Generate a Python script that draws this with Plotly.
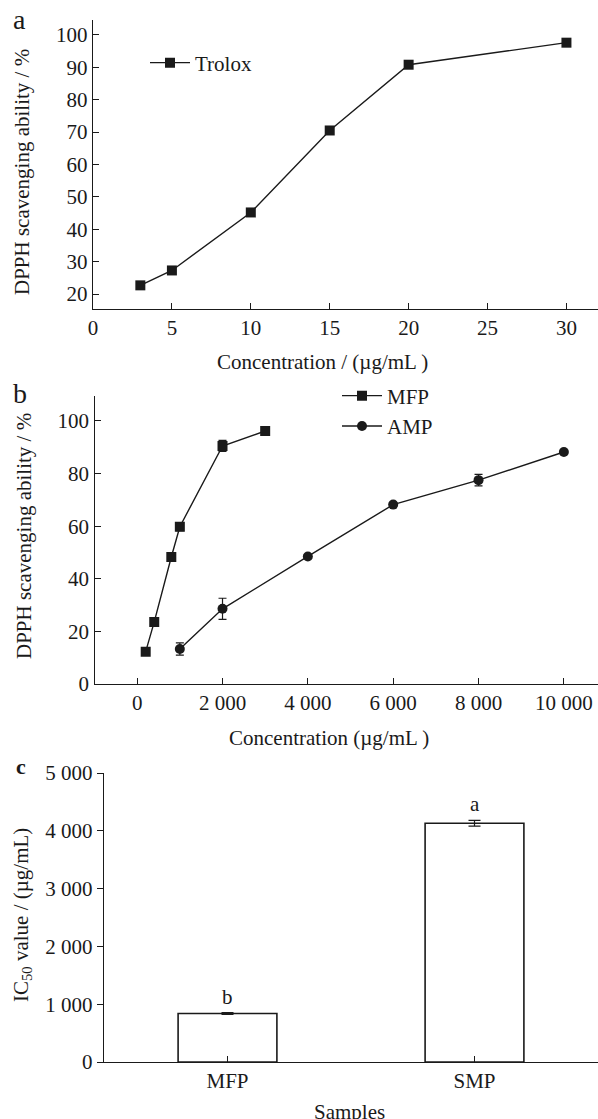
import plotly.graph_objects as go

# ---------------- data ----------------
trolox_conc = [3, 5, 10, 15, 20, 30]
trolox_dpph = [22.7, 27.3, 45.2, 70.5, 90.8, 97.6]

mfp_conc = [200, 400, 800, 1000, 2000, 3000]
mfp_dpph = [12.3, 23.6, 48.3, 59.8, 90.5, 96.2]
mfp_err = [0.5, 0.6, 1.5, 1.5, 2.1, 0.6]

amp_conc = [1000, 2000, 4000, 6000, 8000, 10000]
amp_dpph = [13.3, 28.6, 48.5, 68.2, 77.5, 88.2]
amp_err = [2.3, 4.0, 0.5, 0.5, 2.2, 0.5]

ic50_samples = ["MFP", "SMP"]
ic50_values = [840, 4130]
ic50_err = [15, 50]
ic50_letters = ["b", "a"]

xb_ticks = [0, 2000, 4000, 6000, 8000, 10000]
xb_text = ["0", "2 000", "4 000", "6 000", "8 000", "10 000"]
yc_ticks = [0, 1000, 2000, 3000, 4000, 5000]
yc_text = ["0", "1 000", "2 000", "3 000", "4 000", "5 000"]

# ---------------- layout helpers ----------------
W, H = 598, 1119
FONT = "Liberation Serif"
FS = 21
INK = "#1a1a1a"


def px(p):
    return p / W


def py(p):
    return 1 - p / H


fig = go.Figure()

fig.add_trace(go.Scatter(
    x=trolox_conc, y=trolox_dpph, mode="lines+markers", name="Trolox",
    line=dict(color=INK, width=1.4),
    marker=dict(symbol="square", size=10, color=INK),
    xaxis="x", yaxis="y", legend="legend"))

fig.add_trace(go.Scatter(
    x=mfp_conc, y=mfp_dpph, mode="lines+markers", name="MFP",
    line=dict(color=INK, width=1.4),
    marker=dict(symbol="square", size=10, color=INK),
    error_y=dict(type="data", array=mfp_err, color=INK, thickness=1.2, width=4),
    xaxis="x2", yaxis="y2", legend="legend2"))

fig.add_trace(go.Scatter(
    x=amp_conc, y=amp_dpph, mode="lines+markers", name="AMP",
    line=dict(color=INK, width=1.4),
    marker=dict(symbol="circle", size=10, color=INK),
    error_y=dict(type="data", array=amp_err, color=INK, thickness=1.2, width=4),
    xaxis="x2", yaxis="y2", legend="legend2"))

fig.add_trace(go.Bar(
    x=ic50_samples, y=ic50_values, width=0.4,
    marker=dict(color="white", line=dict(color=INK, width=1.6)),
    error_y=dict(type="data", array=ic50_err, color=INK, thickness=1.2, width=6),
    xaxis="x3", yaxis="y3", showlegend=False))

axis_common = dict(
    showline=True, linecolor=INK, linewidth=1.4, showgrid=False, zeroline=False,
    ticks="inside", ticklen=6, tickwidth=1.3, tickcolor=INK, automargin=False,
    tickfont=dict(family=FONT, size=FS, color=INK),
)

fig.update_layout(
    width=W, height=H,
    margin=dict(l=0, r=0, t=0, b=0, autoexpand=False),
    paper_bgcolor="white", plot_bgcolor="white",
    font=dict(family=FONT, size=FS, color=INK),
    xaxis=dict(domain=[px(93), 1], range=[0, 32], anchor="y",
               tickvals=[0, 5, 10, 15, 20, 25, 30], **axis_common),
    yaxis=dict(domain=[py(309), py(20)], range=[15.4, 104.6], anchor="x",
               tickvals=[20, 30, 40, 50, 60, 70, 80, 90, 100], **axis_common),
    xaxis2=dict(domain=[px(94.5), 1], range=[-1000, 10800], anchor="y2",
                tickvals=xb_ticks, ticktext=xb_text, **axis_common),
    yaxis2=dict(domain=[py(684), py(396)], range=[0, 109.5], anchor="x2",
                tickvals=[0, 20, 40, 60, 80, 100], **axis_common),
    xaxis3=dict(domain=[px(104), 1], range=[-0.5, 1.5], anchor="y3",
                type="category", **axis_common),
    yaxis3=dict(domain=[py(1062), py(773)], range=[0, 5000], anchor="x3",
                tickvals=yc_ticks, ticktext=yc_text,
                **{**axis_common, "ticks": "outside"}),
    legend=dict(x=px(145), y=py(63), xref="container", yref="container",
                xanchor="left", yanchor="middle",
                bgcolor="rgba(0,0,0,0)", itemwidth=40,
                font=dict(family=FONT, size=FS, color=INK)),
    legend2=dict(x=px(337), y=py(411), xref="container", yref="container",
                 xanchor="left", yanchor="middle",
                 bgcolor="rgba(0,0,0,0)", itemwidth=40, tracegroupgap=0,
                 font=dict(family=FONT, size=FS, color=INK)),
    showlegend=True,
)

ann = []


def label(text, x, y, size=FS, angle=0, bold=False):
    t = f"<b>{text}</b>" if bold else text
    ann.append(dict(text=t, x=px(x), y=py(y), xref="paper", yref="paper",
                    showarrow=False, textangle=angle, xanchor="center", yanchor="middle",
                    font=dict(family=FONT, size=size, color=INK)))


label("a", 19, 20, size=28)
label("b", 20, 394, size=28)
label("c", 21, 766, size=22, bold=True)
label("DPPH scavenging ability / %", 22, 172, angle=-90)
label("DPPH scavenging ability / %", 24, 536, angle=-90)
label("IC<sub>50</sub> value / (µg/mL)", 22, 915, angle=-90)
label("Concentration / (µg/mL )", 322, 362)
label("Concentration (µg/mL )", 329, 738)
label("Samples", 349, 1112)

for s, v, e, l in zip(ic50_samples, ic50_values, ic50_err, ic50_letters):
    ann.append(dict(text=l, x=s, y=v + e, xref="x3", yref="y3", showarrow=False,
                    xanchor="center", yanchor="bottom", yshift=2,
                    font=dict(family=FONT, size=FS, color=INK)))

fig.update_layout(annotations=ann)

fig.write_html(
    "out.html",
    config={"displayModeBar": False},
    post_script="document.body.style.margin='0';document.body.style.overflow='hidden';",
)
